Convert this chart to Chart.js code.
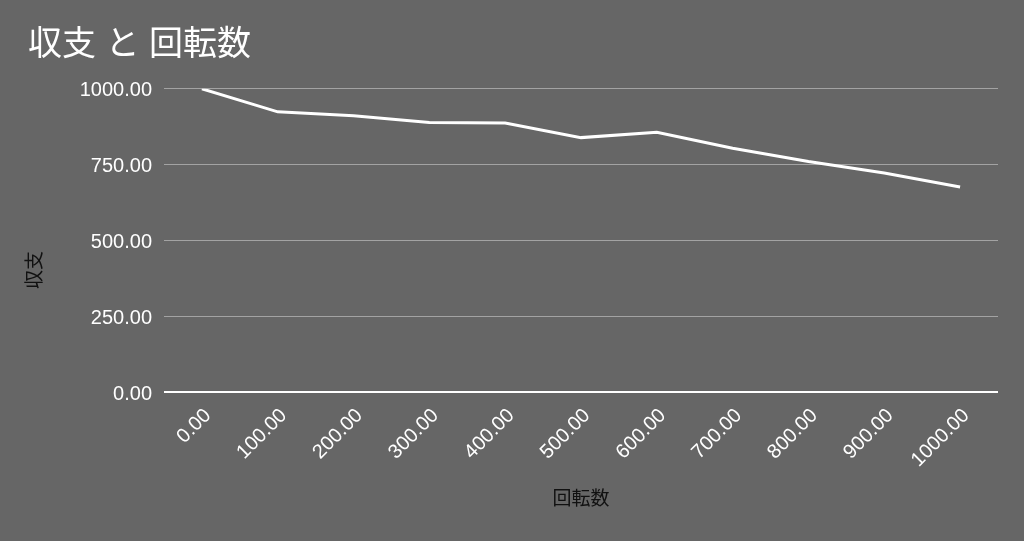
<!DOCTYPE html>
<html>
<head>
<meta charset="utf-8">
<script src="https://cdn.jsdelivr.net/npm/chart.js@4/dist/chart.umd.min.js"></script>
<style>
  html, body { margin: 0; padding: 0; background: #666666; }
  #wrap { width: 1024px; height: 541px; }
</style>
</head>
<body>
<div id="wrap"><canvas id="chart" width="1024" height="541"></canvas></div>
<script>
const spinLabels = ["0.00", "100.00", "200.00", "300.00", "400.00", "500.00",
  "600.00", "700.00", "800.00", "900.00", "1000.00"];
const balanceValues = [1000, 924, 911, 889, 887, 839, 857, 804, 760, 722, 676];
const yTicks = [0, 250, 500, 750, 1000];
const yTitle = "収支";

const FONT = "Arial, 'Liberation Sans', 'Noto Sans CJK JP', sans-serif";

// y axis title sits at the vertical centre of the whole canvas, not the plot
const yTitlePlugin = {
  id: "yTitle",
  afterDraw(chart) {
    const c = chart.ctx;
    c.save();
    c.translate(36, 270);
    c.rotate(-Math.PI / 2);
    c.fillStyle = "#111111";
    c.font = "19px " + FONT;
    c.textAlign = "center";
    c.textBaseline = "middle";
    c.fillText(yTitle, 0, 0);
    c.restore();
  },
};

new Chart(document.getElementById("chart"), {
  type: "line",
  data: {
    labels: spinLabels,
    datasets: [
      {
        label: yTitle,
        data: balanceValues,
        borderColor: "#ffffff",
        borderWidth: 3,
        pointRadius: 0,
        tension: 0,
        fill: false,
      },
    ],
  },
  options: {
    responsive: false,
    animation: false,
    layout: { padding: { left: 28, right: 26, top: 0, bottom: 0 } },
    plugins: {
      legend: { display: false },
      tooltip: { enabled: false },
      title: {
        display: true,
        text: "収支 と 回転数",
        align: "start",
        color: "#ffffff",
        font: { family: FONT, size: 34, weight: "normal" },
        padding: { top: 25, bottom: 23 },
      },
    },
    scales: {
      x: {
        offset: true,
        grid: { display: false },
        border: { display: false },
        ticks: {
          color: "#ffffff",
          font: { family: FONT, size: 20 },
          minRotation: 45,
          maxRotation: 45,
          padding: 4,
          labelOffset: 6,
        },
        title: {
          display: true,
          text: "回転数",
          color: "#111111",
          font: { family: FONT, size: 19 },
          padding: { top: 0, bottom: 30 },
        },
        afterFit: (scale) => { scale.height = 149; },
      },
      y: {
        min: 0,
        max: 1000,
        afterBuildTicks: (scale) => {
          scale.ticks = yTicks.map((v) => ({ value: v }));
        },
        grid: {
          drawTicks: false,
          color: (ctx) => (ctx.tick && ctx.tick.value === 0 ? "#ffffff" : "#a3a3a3"),
          lineWidth: (ctx) => (ctx.tick && ctx.tick.value === 0 ? 2 : 1),
        },
        border: { display: false },
        ticks: {
          color: "#ffffff",
          font: { family: FONT, size: 20 },
          padding: 12,
          labelOffset: 2,
          callback: (v) => Number(v).toFixed(2),
        },
        afterFit: (scale) => { scale.width = 136; },
      },
    },
  },
  plugins: [
    {
      id: "bg",
      beforeDraw(chart) {
        const c = chart.ctx;
        c.save();
        c.fillStyle = "#666666";
        c.fillRect(0, 0, chart.width, chart.height);
        c.restore();
      },
    },
    yTitlePlugin,
  ],
});
</script>
</body>
</html>
